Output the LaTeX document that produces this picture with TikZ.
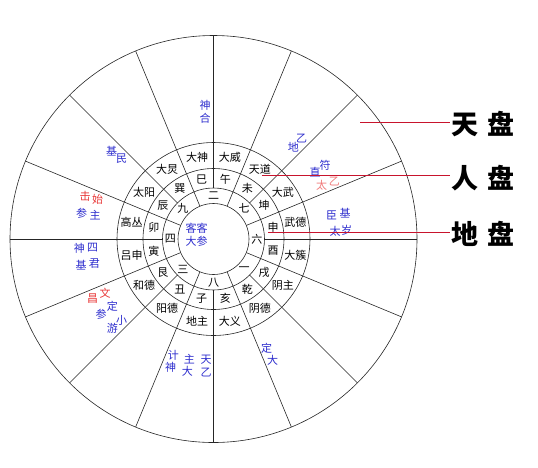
\documentclass[tikz,border=0pt]{standalone}
\usepackage{fontspec}
\newfontfamily\cjk{Noto Sans CJK SC}
\definecolor{spiritblue}{RGB}{45,45,205}
\definecolor{spiritred}{RGB}{232,55,55}
\definecolor{palered}{RGB}{240,120,120}
\definecolor{leaderred}{RGB}{200,20,45}

\begin{document}
\begin{tikzpicture}[x=1pt,y=1pt]
    \tikzstyle{rim}=[draw=black!85,line width=0.6pt]
    \tikzstyle{ringtext}=[font=\cjk\fontsize{11}{12}\selectfont,inner sep=0pt]
    \tikzstyle{bluename}=[ringtext,text=spiritblue]
    \tikzstyle{redname}=[ringtext,text=spiritred]
    \tikzstyle{plate}=[font=\cjk\bfseries\fontsize{27}{29}\selectfont,inner sep=1pt,anchor=west]
    \tikzstyle{leader}=[color=leaderred,line width=0.9pt]
    \useasboundingbox (0,0) rectangle (538,-467);

    % the wheel
    \begin{scope}[shift={(213.5,-239)}]
    \draw[rim] (0,0) circle (203.5);
    \draw[rim] (0,0) circle (96.5);
    \draw[rim] (0,0) circle (70.5);
    \draw[rim] (0,0) circle (51);
    \draw[rim] (0,0) circle (35.5);
    \foreach \a in {0,45,...,315} \draw[rim] (\a:51) -- (\a:203.5);
    \foreach \a in {22.5,67.5,...,337.5} \draw[rim] (\a:35.5) -- (\a:203.5);

    \foreach \t [count=\i] in {大威,天道,大武,武德,大簇,阴主,阴德,大义,地主,阳德,和德,吕申,高丛,太阳,大炅,大神}
        \node[ringtext] (god\i) at ({101.25-22.5*\i}:83.5) {\t};
    \foreach \t [count=\i] in {午,未,坤,申,酉,戌,乾,亥,子,丑,艮,寅,卯,辰,巽,巳}
        \node[ringtext] (branch\i) at ({101.25-22.5*\i}:60.75) {\t};
    \foreach \t [count=\i] in {二,七,六,一,八,三,四,九}
        \node[ringtext] (palace\i) at ({135-45*\i}:43.25) {\t};
    \end{scope}

    % centre
    \node[bluename] (guesta) at (196.5,-228.5) {客客};
    \node[bluename] (guestb) at (196.5,-241) {大参};

    % outer ring
    \node[bluename] (heshen1) at (205,-105) {神};
    \node[bluename] (heshen2) at (205,-118) {合};
    \node[bluename] (diyi1) at (301.7,-138.3) {乙};
    \node[bluename] (diyi2) at (293.3,-146.7) {地};
    \node[bluename] (zhifu1) at (325,-165) {符};
    \node[bluename] (zhifu2) at (315,-171.7) {直};
    \node[ringtext,text=palered] (taiyi1) at (334.3,-181.7) {乙};
    \node[ringtext,text=palered] (taiyi2) at (321.7,-185.7) {太};
    \node[bluename] (chenji1) at (331.7,-215) {臣};
    \node[bluename] (chenji2) at (345,-213.3) {基};
    \node[bluename] (taisui1) at (335,-231.7) {太};
    \node[bluename] (taisui2) at (346.7,-230) {岁};
    \node[bluename] (minji1) at (111.7,-151) {基};
    \node[bluename] (minji2) at (121.7,-158.3) {民};
    \node[redname] (shiji1) at (85,-196.7) {击};
    \node[redname] (shiji2) at (97.7,-199.3) {始};
    \node[bluename] (zhucan1) at (81.7,-213.3) {参};
    \node[bluename] (zhucan2) at (95,-215) {主};
    \node[bluename] (sishen1) at (79.3,-248.3) {神};
    \node[bluename] (sishen2) at (92.7,-247.7) {四};
    \node[bluename] (junji1) at (81,-265) {基};
    \node[bluename] (junji2) at (94.3,-263.3) {君};
    \node[redname] (wenchang1) at (105,-293.3) {文};
    \node[redname] (wenchang2) at (92.7,-298.3) {昌};
    \node[bluename] (dingcan1) at (112.3,-306.7) {定};
    \node[bluename] (dingcan2) at (101,-314) {参};
    \node[bluename] (xiaoyou1) at (121.7,-320) {小};
    \node[bluename] (xiaoyou2) at (112.3,-328.3) {游};
    \node[bluename] (jishen1) at (173.3,-355) {计};
    \node[bluename] (jishen2) at (170.7,-367.7) {神};
    \node[bluename] (zhuda1) at (189.3,-359.3) {主};
    \node[bluename] (zhuda2) at (187.3,-371.7) {大};
    \node[bluename] (tianyi1) at (206,-360) {天};
    \node[bluename] (tianyi2) at (206,-372.7) {乙};
    \node[bluename] (dading1) at (266.7,-348.3) {定};
    \node[bluename] (dading2) at (272.7,-360) {大};

    % plates
    \node[plate] (tianpan) at (450,-124) {天\hspace{0.35em}盘};
    \node[plate] (renpan) at (450,-178) {人\hspace{0.35em}盘};
    \node[plate] (dipan) at (450,-234) {地\hspace{0.35em}盘};
    \coordinate (tianpin) at (360,-122.5);
    \coordinate (renpin) at (262,-175.5);
    \coordinate (dipin) at (268,-232.5);
    \draw[leader] (tianpin) -- (tianpin -| tianpan.west);
    \draw[leader] (renpin) -- (renpin -| renpan.west);
    \draw[leader] (dipin) -- (dipin -| dipan.west);
\end{tikzpicture}
\end{document}
